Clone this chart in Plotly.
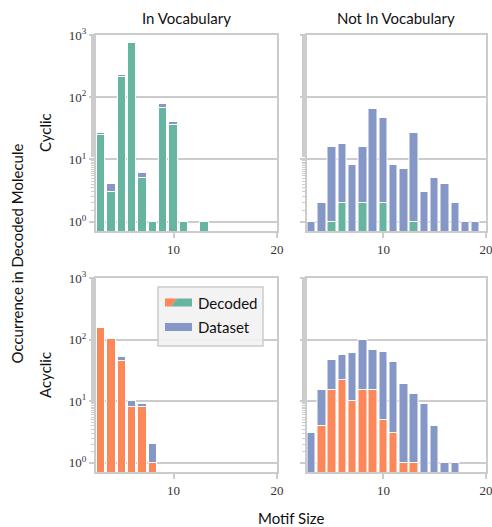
import plotly.graph_objects as go
from plotly.subplots import make_subplots

# ---- data ----
cyc_in_sizes = [3, 4, 5, 6, 7, 8, 9, 10, 11, 13]
cyc_in_dataset = [27, 4, 227, 760, 6, 1, 77, 40, 1, 1]
cyc_in_decoded = [25, 3, 211, 733, 5, 1, 66, 36, 1, 1]

cyc_out_sizes = [3, 4, 5, 6, 7, 8, 9, 10, 11, 12, 13, 14, 15, 16, 17, 18, 19]
cyc_out_dataset = [1, 2, 16, 18, 8, 16, 65, 47, 8, 7, 27, 3, 5, 4, 2, 1, 1]
cyc_out_dec_sizes = [5, 6, 8, 10, 13]
cyc_out_decoded = [1, 2, 2, 2, 1]

acy_in_sizes = [3, 4, 5, 6, 7, 8]
acy_in_dataset = [163, 107, 53, 10, 9, 2]
acy_in_decoded = [156, 102, 45, 8, 8, 1]

acy_out_sizes = [3, 4, 5, 6, 7, 8, 9, 10, 11, 12, 13, 14, 15, 16, 17]
acy_out_dataset = [3, 15, 47, 56, 60, 98, 69, 63, 44, 19, 13, 9, 4, 1, 1]
acy_out_dec_sizes = [4, 5, 6, 7, 8, 9, 10, 11, 12, 13]
acy_out_decoded = [4, 15, 22, 10, 15, 15, 5, 3, 1, 1]

col_titles = ["In Vocabulary", "Not In Vocabulary"]
row_titles = ["Cyclic", "Acyclic"]
y_tickvals = [1, 10, 100, 1000]
y_ticktext = ["10<sup>0</sup>", "10<sup>1</sup>", "10<sup>2</sup>", "10<sup>3</sup>"]
x_tickvals = [10, 20]

GREEN = "#66b5a0"
ORANGE = "#fc8759"
BLUE = "#8497c6"
GRID = "#cccccc"

W, H = 492, 527
def px(x):
    return x / W
def py(y):
    return 1 - y / H

fig = make_subplots(rows=2, cols=2)

panels = [
    (1, 1, cyc_in_sizes, cyc_in_dataset, cyc_in_sizes, cyc_in_decoded, GREEN),
    (1, 2, cyc_out_sizes, cyc_out_dataset, cyc_out_dec_sizes, cyc_out_decoded, GREEN),
    (2, 1, acy_in_sizes, acy_in_dataset, acy_in_sizes, acy_in_decoded, ORANGE),
    (2, 2, acy_out_sizes, acy_out_dataset, acy_out_dec_sizes, acy_out_decoded, ORANGE),
]
for r, c, xs, ds, xd, dd, col in panels:
    fig.add_trace(go.Bar(x=xs, y=ds, marker=dict(color=BLUE, line=dict(color="white", width=1)),
                         width=0.82, showlegend=False), row=r, col=c)
    fig.add_trace(go.Bar(x=xd, y=dd, marker=dict(color=col, line=dict(color="white", width=1)),
                         width=0.82, showlegend=False), row=r, col=c)

xdoms = [[px(96), px(277)], [px(306.5), px(486)]]
ydoms = [[py(231), py(35)], [py(472), py(278)]]

for r in (1, 2):
    for c in (1, 2):
        fig.update_xaxes(row=r, col=c, domain=xdoms[c - 1], range=[2.5, 20],
                         tickvals=x_tickvals, ticks="outside", ticklen=5, tickcolor=GRID,
                         tickwidth=1.5, showgrid=False, zeroline=False, automargin=False,
                         ticklabeloverflow="allow",
                         showline=True, mirror=True, linecolor=GRID, linewidth=2,
                         tickfont=dict(family="Liberation Serif", size=13, color="#333"))
        fig.update_yaxes(row=r, col=c, domain=ydoms[r - 1], type="log", range=[-0.15, 3],
                         tickvals=y_tickvals, ticktext=y_ticktext, automargin=False,
                         showticklabels=(c == 1), ticks="outside", ticklen=5, tickcolor=GRID,
                         tickwidth=1.5, showgrid=True, gridcolor=GRID, gridwidth=1.5,
                         zeroline=False, showline=True, mirror=True, linecolor=GRID, linewidth=2,
                         minor=dict(ticks="outside", ticklen=3, tickcolor=GRID, tickwidth=1, showgrid=False),
                         tickfont=dict(family="Liberation Serif", size=13, color="#333"))

SANS = "Lato"
TF = dict(family=SANS, size=15, color="#111")
annotations = []
for i, t in enumerate(col_titles):
    cx = (xdoms[i][0] + xdoms[i][1]) / 2
    annotations.append(dict(text=t, x=cx, y=py(18), xref="paper", yref="paper", showarrow=False,
                            xanchor="center", yanchor="middle", font=TF))
for i, t in enumerate(row_titles):
    cy = (ydoms[i][0] + ydoms[i][1]) / 2
    annotations.append(dict(text=t, x=px(45), y=cy, xref="paper", yref="paper", showarrow=False,
                            xanchor="center", yanchor="middle", textangle=-90, font=TF))
annotations.append(dict(text="Occurrence in Decoded Molecule", x=px(17), y=(ydoms[1][0] + ydoms[0][1]) / 2,
                        xref="paper", yref="paper", showarrow=False, textangle=-90,
                        xanchor="center", yanchor="middle", font=TF))
annotations.append(dict(text="Motif Size", x=(xdoms[0][0] + xdoms[1][1]) / 2, y=py(518),
                        xref="paper", yref="paper", showarrow=False,
                        xanchor="center", yanchor="middle", font=TF))
# legend text
annotations.append(dict(text="Decoded", x=px(196), y=py(302.5), xref="paper", yref="paper",
                        xanchor="left", yanchor="middle", showarrow=False, font=TF))
annotations.append(dict(text="Dataset", x=px(196), y=py(327), xref="paper", yref="paper",
                        xanchor="left", yanchor="middle", showarrow=False, font=TF))

shapes = []
# legend box
shapes.append(dict(type="rect", xref="paper", yref="paper", x0=px(158), x1=px(263), y0=py(346), y1=py(287),
                   fillcolor="rgba(242,242,242,0.9)", line=dict(color="#cccccc", width=1.5), layer="above"))
# Decoded patch: orange / green split
shapes.append(dict(type="path", xref="paper", yref="paper", layer="above",
                   path=f"M {px(165)} {py(298.5)} L {px(177)} {py(298.5)} L {px(171)} {py(306.5)} L {px(165)} {py(306.5)} Z",
                   fillcolor=ORANGE, line=dict(width=0)))
shapes.append(dict(type="path", xref="paper", yref="paper", layer="above",
                   path=f"M {px(177)} {py(298.5)} L {px(192)} {py(298.5)} L {px(192)} {py(306.5)} L {px(171)} {py(306.5)} Z",
                   fillcolor=GREEN, line=dict(width=0)))
shapes.append(dict(type="rect", xref="paper", yref="paper", layer="above",
                   x0=px(165), x1=px(192), y0=py(331), y1=py(323), fillcolor=BLUE, line=dict(width=0)))

fig.update_layout(width=W, height=H, margin=dict(l=0, r=0, t=0, b=0, autoexpand=False),
                  barmode="overlay", bargap=0, plot_bgcolor="white", paper_bgcolor="white",
                  annotations=annotations, shapes=shapes, showlegend=False)

fig.write_html("out.html")
